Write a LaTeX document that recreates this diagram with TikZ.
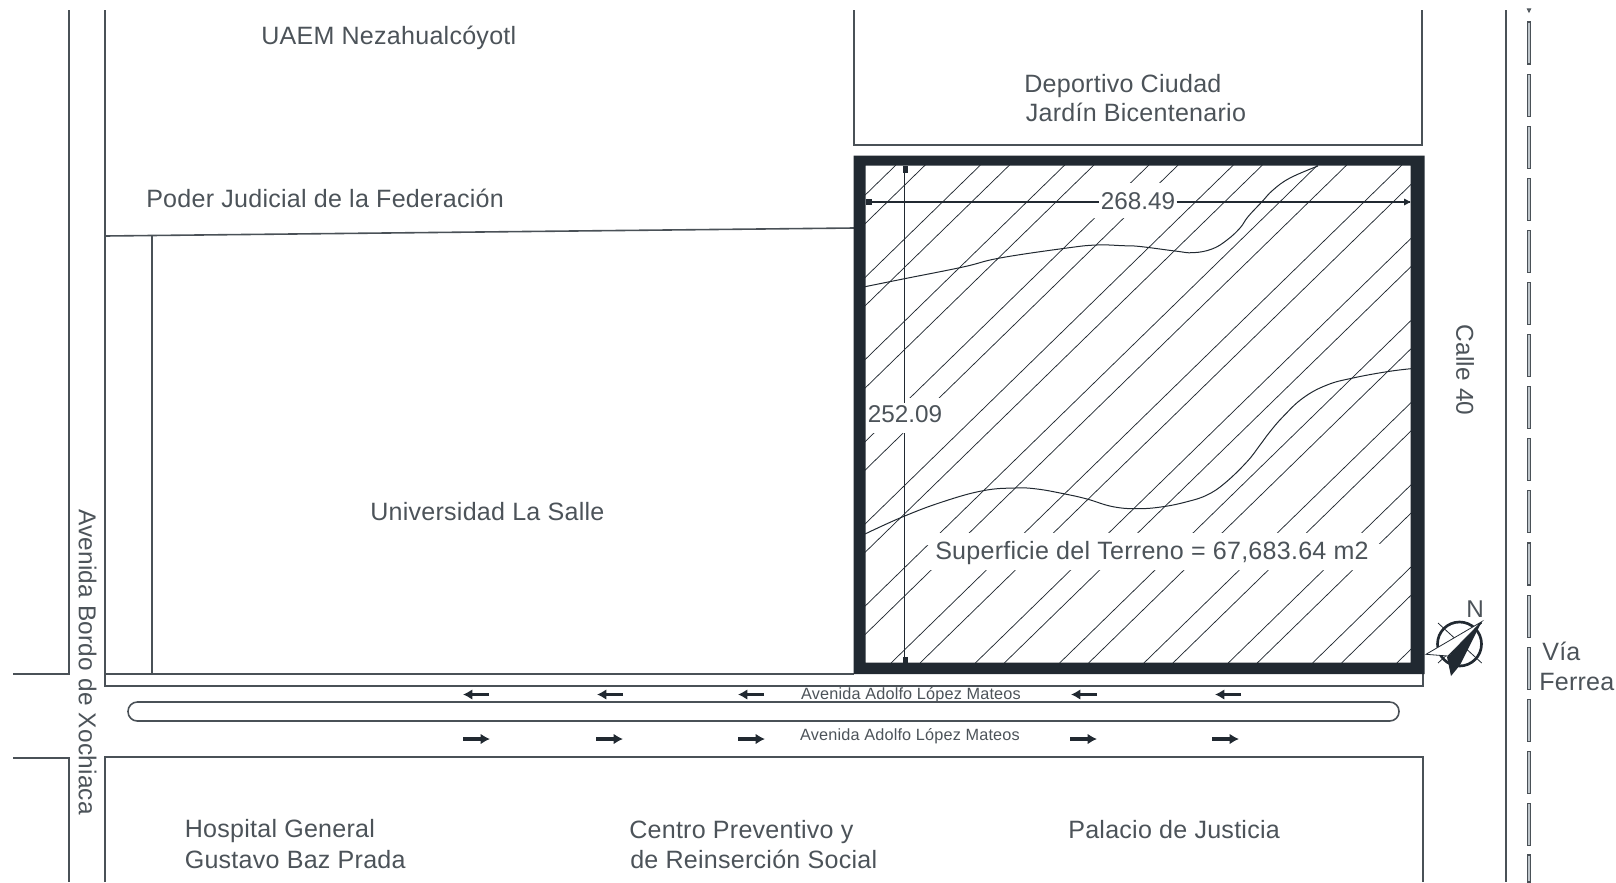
\documentclass[tikz,border=0pt]{standalone}
\usepackage{fontspec}
\setmainfont{Liberation Sans}
\usetikzlibrary{arrows.meta}
\definecolor{ink}{HTML}{4A5157}
\definecolor{txt}{HTML}{4C5359}
\definecolor{heavy}{HTML}{212931}
\definecolor{railfill}{HTML}{BFC6CB}
\newcommand{\hatchgap}[4]{%
  \pgfmathsetmacro{\gxa}{#1+(663-#3)*1.026}\pgfmathsetmacro{\gxb}{#2+(663-#3)*1.026}%
  \pgfmathsetmacro{\gxc}{#2+(663-#4)*1.026}\pgfmathsetmacro{\gxd}{#1+(663-#4)*1.026}%
  \fill[white] (\gxa,#3) -- (\gxb,#3) -- (\gxc,#4) -- (\gxd,#4) -- cycle;}
\newfontfamily\spaced[LetterSpace=1.0]{Liberation Sans}
\tikzset{
  x=0.75pt,y=-0.75pt,
  road/.style={draw=ink,line width=1.2pt},
  thin road/.style={draw=ink,line width=0.9pt},
  hatchline/.style={draw=heavy,line width=0.55pt},
  contour/.style={draw=heavy,line width=0.75pt,smooth,tension=0.7},
  dimline/.style={draw=heavy,line width=0.8pt},
  tick/.style={fill=heavy},
  lab/.style={text=txt,inner sep=0pt,font=\spaced\fontsize{18.8}{18.8}\selectfont,anchor=base west},
  side lab/.style={text=txt,inner sep=0pt,font=\spaced\fontsize{18.3}{18.3}\selectfont,anchor=center,rotate=-90},
  dimlab/.style={text=txt,inner sep=0pt,font=\fontsize{18.2}{18.2}\selectfont},
  small lab/.style={text=txt,inner sep=0pt,font=\spaced\fontsize{12.2}{12.2}\selectfont},
  flow/.style={draw=heavy,line width=2.5pt,-{Latex[length=7pt,width=8pt]}},
  rail/.style={draw=ink,fill=railfill,line width=0.8pt}
}
\begin{document}
\begin{tikzpicture}
\useasboundingbox (0,0) rectangle (1616,882);
% roads
\draw[road] (13,674) -- (69,674) -- (69,10);
\draw[road] (13,758) -- (69,758) -- (69,882);
\draw[road] (105,10) -- (105,686) -- (1423,686) -- (1423,674);
\draw[road] (105,882) -- (105,757) -- (1423,757) -- (1423,882);
\draw[road] (105,674) -- (854,674);
\draw[road] (854,10) -- (854,145) -- (1422,145) -- (1422,10);
\draw[road] (105,236) -- (854,228);
\draw[thin road] (152,236) -- (152,674);
\draw[road,rounded corners=7pt] (128,702) rectangle (1399,721);
\draw[draw=ink,line width=1.6pt] (1506,10) -- (1506,882);
% railway
\foreach \k in {0,...,15}{
  \pgfmathsetmacro{\ya}{22+52.1*\k}
  \draw[rail] (1527.5,\ya) rectangle (1530.5,\ya+42);
}
\draw[rail] (1527.5,855) -- (1527.5,882) -- (1530.5,882) -- (1530.5,855) -- cycle;
\draw[rail] (1527.5,9) -- (1530.5,9) -- (1529,12) -- cycle;
% hatch
\begin{scope}
\clip (865,165) rectangle (1411,663);
\foreach \c in {385,469.5,553.8,638,722.4,806.7,891,975.3,1059.6,1143.9,1228.2,1312.5,1396.8,
                330,414.3,498.6,583,667.2,751.5,835.8,920,1004.3,1088.6,1172.9,1257.2,1341.5}{
  \draw[hatchline] (\c,663) -- ({\c+498*1.026},165);
}
\hatchgap{625}{680}{183}{218}
\hatchgap{625}{680}{398}{433}
\hatchgap{822}{1242}{533}{570}
\hatchgap{795}{820}{533}{545}
\hatchgap{1245}{1270}{544}{570}
\end{scope}
% contours
\draw[contour] plot coordinates {(865,286.7) (903,279) (963,267) (1000,258) (1067,248) (1097,245) (1123,245.7) (1140,246.5) (1175,251) (1193,252.7) (1212,249) (1227,240) (1240,228) (1248,216.7) (1262,201.7) (1273,190) (1290,178) (1318,166)};
\draw[contour] plot coordinates {(865,534) (903,516.7) (943,501.7) (983,490.7) (1015,488) (1037,489) (1065,494) (1087,499) (1113,506.7) (1138,508.7) (1163,506.7) (1187,501.7) (1207,495) (1225,483) (1247,461.7) (1260,445) (1270,431.7) (1283,416.7) (1303,398) (1327,385) (1353,378) (1387,371.7) (1411,368.7)};
% dimensions
\node[dimlab,inner sep=1pt] (dimH) at (1138,201) {268.49};
\node[dimlab] (dimV) at (905,414) {252.09};
\coordinate (hl) at (866,202);
\coordinate (hr) at (1410,202);
\coordinate (vt) at (904.3,166);
\coordinate (vb) at (904.3,663);
\draw[dimline] (hl) -- (dimH.west |- hl);
\draw[dimline] (dimH.east |- hr) -- (hr);
\draw[dimline] (vt) -- (904.3,403);
\draw[dimline] (904.3,433) -- (vb);
\fill[tick] (865.5,199) rectangle (871.7,205);
\fill[tick] (1410.5,202) -- (1404,198.5) -- (1404,205.5) -- cycle;
\fill[tick] (902.7,165.5) rectangle (908.3,173);
\fill[tick] (902.7,657) rectangle (908.3,663);
% terrain frame
\fill[heavy,even odd rule] (853.5,155.7) rectangle (1424.5,674) (865.6,165.7) rectangle (1410.7,662.7);
% flow arrows
\foreach \x in {463,597,738,1071,1215}{ \draw[flow] (\x+26,694.5) -- (\x,694.5); }
\foreach \x in {463,596,738,1070,1212}{ \draw[flow] (\x,739) -- (\x+27,739); }
% compass
\draw[draw=heavy,line width=2pt] (1459.5,644) circle (22);
\draw[heavy,line width=0.6pt] (1438,623) -- (1481.7,663) (1438,663) -- (1481.7,623);
\draw[heavy,line width=0.6pt,fill=white] (1426,654.3) -- (1481.7,621.7) -- (1448,656) -- cycle;
\fill[heavy] (1481.7,621.7) -- (1460,665) -- (1451,676) -- (1447,657) -- (1450,654.5) -- cycle;
% labels
\node[lab] (uaem) at (261,44.5) {UAEM Nezahualcóyotl};
\node[lab] (dep1) at (1024,92) {Deportivo Ciudad};
\node[lab] (dep2) at (1025.5,121.5) {Jardín Bicentenario};
\node[lab] (pjf) at (146,207) {Poder Judicial de la Federación};
\node[lab] (ulsa) at (370,520.3) {Universidad La Salle};
\node[lab] (sup) at (935,559) {Superficie del Terreno = 67,683.64 m2};
\node[side lab] (calle) at (1465,370) {Calle 40};
\node[side lab] (bordo) at (87.5,662) {Avenida Bordo de Xochiaca};
\node[small lab] (ad1) at (911,695.5) {Avenida Adolfo López Mateos};
\node[small lab] (ad2) at (910,736) {Avenida Adolfo López Mateos};
\node[lab] (hosp1) at (184.5,837.5) {Hospital General};
\node[lab] (hosp2) at (184.5,868) {Gustavo Baz Prada};
\node[lab] (cen1) at (629,838) {Centro Preventivo y};
\node[lab] (cen2) at (630,868) {de Reinserción Social};
\node[lab] (pal) at (1068,838) {Palacio de Justicia};
\node[lab] (via1) at (1542,660) {Vía};
\node[lab] (via2) at (1539,690) {Ferrea};
\node[dimlab] (north) at (1475,609) {N};
\end{tikzpicture}
\end{document}
